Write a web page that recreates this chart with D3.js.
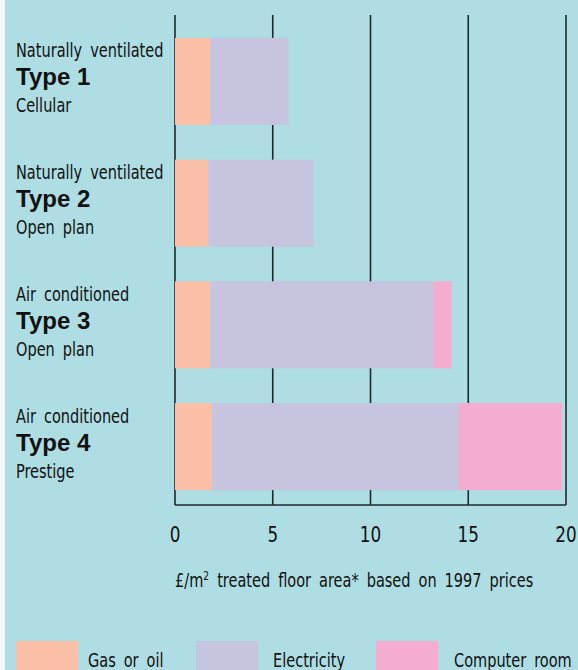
<!DOCTYPE html>
<html>
<head>
<meta charset="utf-8">
<script src="https://cdn.jsdelivr.net/npm/d3@7"></script>
<style>
  body { margin: 0; background: #f4fafb; }
  svg { display: block; }
  text { font-family: "DejaVu Sans Condensed", "DejaVu Sans", sans-serif; font-stretch: condensed; fill: #111; }
</style>
</head>
<body>
<div id="chart"></div>
<script>
// values, £/m2 treated floor area
const types = ["Type 1", "Type 2", "Type 3", "Type 4"];
const topLines = ["Naturally ventilated", "Naturally ventilated", "Air conditioned", "Air conditioned"];
const subLines = ["Cellular", "Open plan", "Open plan", "Prestige"];
const gasOil = [1.8, 1.7, 1.8, 1.9];
const electricity = [4.0, 5.4, 11.4, 12.6];
const computerRoom = [0, 0, 0.95, 5.3];
const seriesNames = ["Gas or oil", "Electricity", "Computer room"];
const seriesColors = ["#fbc0a7", "#c7c4e0", "#f4adcf"];
const ticks = [0, 5, 10, 15, 20];

const width = 578, height = 670;
const left = 175, right = 566, axisY = 505, gridTop = 15;
const squeeze = 0.85; // the original face is a narrow Gill Sans

const svg = d3.select("#chart").append("svg")
    .attr("width", width)
    .attr("height", height);

// teal panel, leaves a thin pale strip on the left
svg.append("rect")
    .attr("x", 5).attr("y", 0)
    .attr("width", width - 5).attr("height", height)
    .attr("fill", "#aedde3");

const x = d3.scaleLinear().domain([0, 20]).range([left, right]);
const y = d3.scaleBand().domain(types).range([20, 508]).paddingInner(0.285).paddingOuter(0.147);

// text placed at (tx, ty) and squeezed horizontally
function narrowText(parent, tx, ty, size) {
    return parent.append("text")
        .attr("transform", `translate(${tx},${ty}) scale(${squeeze},1)`)
        .attr("font-size", size)
        .attr("word-spacing", 4);
}

// grid lines
svg.selectAll(".grid")
    .data(ticks)
    .join("line")
    .attr("class", "grid")
    .attr("x1", d => x(d)).attr("x2", d => x(d))
    .attr("y1", gridTop).attr("y2", axisY)
    .attr("stroke", "#1f2a2c")
    .attr("stroke-width", 1.6);

svg.append("line")
    .attr("x1", x(0)).attr("x2", x(20))
    .attr("y1", axisY).attr("y2", axisY)
    .attr("stroke", "#1f2a2c")
    .attr("stroke-width", 1.6);

ticks.forEach(t => {
    narrowText(svg, x(t), 542, 22)
        .attr("text-anchor", "middle")
        .text(t);
});

narrowText(svg, 175, 587, 19)
    .html("£/m<tspan font-size='12' dy='-7'>2</tspan><tspan dy='7'> treated floor area* based on 1997 prices</tspan>");

// stacked bars
const rows = types.map((t, i) => ({ type: t, values: [gasOil[i], electricity[i], computerRoom[i]] }));
const stack = d3.stack().keys([0, 1, 2]).value((d, k) => d.values[k]);
const layers = stack(rows);

svg.selectAll(".layer")
    .data(layers)
    .join("g")
    .attr("class", "layer")
    .attr("fill", (d, i) => seriesColors[i])
    .selectAll("rect")
    .data(d => d)
    .join("rect")
    .attr("x", d => x(d[0]))
    .attr("y", d => y(d.data.type))
    .attr("width", d => x(d[1]) - x(d[0]))
    .attr("height", y.bandwidth());

// row labels
types.forEach((t, i) => {
    const cy = y(t) + y.bandwidth() / 2;
    narrowText(svg, 16, cy - 24, 19).text(topLines[i]);
    svg.append("text")
        .attr("x", 16)
        .attr("y", cy + 4)
        .attr("font-size", 24)
        .attr("font-weight", "bold")
        .style("font-family", "'Liberation Sans', Arial, sans-serif")
        .style("font-stretch", "normal")
        .text(t);
    narrowText(svg, 16, cy + 31, 19).text(subLines[i]);
});

// legend
const legendX = [16, 196, 376];
const legendTextX = [88, 273, 454];
seriesNames.forEach((name, i) => {
    svg.append("rect")
        .attr("x", legendX[i])
        .attr("y", 641)
        .attr("width", 62)
        .attr("height", 40)
        .attr("fill", seriesColors[i]);
    narrowText(svg, legendTextX[i], 667, 19).text(name);
});
</script>
</body>
</html>
